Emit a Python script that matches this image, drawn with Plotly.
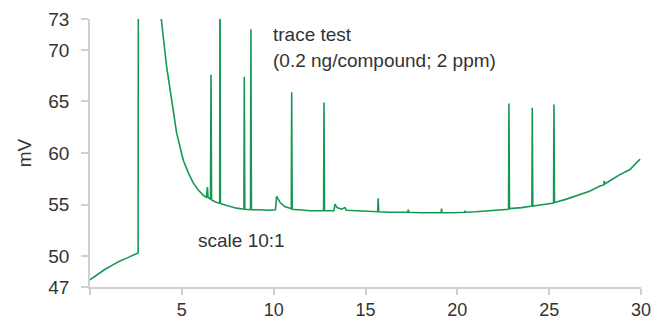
import plotly.graph_objects as go

# Retention time (min) and detector signal (mV)
time_min = [
    0.00, 0.40, 0.80, 1.20, 1.60, 2.00, 2.40, 2.62, 2.64, 3.20,
    3.85, 4.00, 4.17, 4.45, 4.72, 5.08, 5.35, 5.62, 5.90, 6.17,
    6.34, 6.39, 6.43, 6.56, 6.59, 6.62, 6.90, 7.06, 7.08, 7.10,
    7.26, 7.60, 7.98, 8.38, 8.40, 8.43, 8.74, 8.76, 8.79, 9.25,
    9.70, 10.10, 10.16, 10.35, 10.60, 10.96, 10.98, 11.01, 11.50, 12.00,
    12.72, 12.74, 12.77, 13.28, 13.34, 13.45, 13.70, 13.88, 13.95, 14.50,
    15.00, 15.66, 15.69, 15.72, 16.30, 17.00, 17.30, 17.33, 17.36, 18.00,
    18.60, 19.12, 19.14, 19.17, 19.80, 20.40, 20.42, 20.45, 21.00, 21.80,
    22.40, 22.79, 22.81, 22.84, 23.50, 24.06, 24.08, 24.11, 24.70, 25.24,
    25.26, 25.29, 25.90, 26.50, 27.20, 27.76, 27.98, 28.00, 28.03, 28.40,
    28.85, 29.40, 29.70, 29.95,
]
signal_mv = [
    47.7, 48.2, 48.7, 49.1, 49.5, 49.8, 50.1, 50.3, 95.0, 95.0,
    73.5, 71.0, 68.4, 65.1, 61.9, 59.3, 58.1, 57.1, 56.4, 55.9,
    55.7, 56.7, 55.7, 55.5, 67.6, 55.45, 55.2, 55.15, 80.0, 55.1,
    55.0, 54.8, 54.65, 54.55, 67.4, 54.55, 54.5, 72.0, 54.5, 54.5,
    54.45, 54.5, 55.8, 55.2, 54.8, 54.6, 65.9, 54.55, 54.45, 54.4,
    54.4, 64.9, 54.4, 54.4, 55.05, 54.7, 54.55, 54.7, 54.45, 54.4,
    54.3, 54.3, 55.6, 54.3, 54.25, 54.2, 54.25, 54.5, 54.25, 54.2,
    54.2, 54.2, 54.6, 54.2, 54.2, 54.25, 54.4, 54.25, 54.3, 54.4,
    54.5, 54.55, 64.8, 54.6, 54.7, 54.85, 64.4, 54.85, 55.0, 55.15,
    64.7, 55.2, 55.5, 55.9, 56.3, 56.8, 56.9, 57.3, 57.0, 57.4,
    57.9, 58.4, 58.9, 59.4,
]

x_ticks = [0, 5, 10, 15, 20, 25, 30]
x_tick_labels = ["", "5", "10", "15", "20", "25", "30"]
y_ticks = [47, 50, 55, 60, 65, 70, 73]
y_tick_labels = ["47", "50", "55", "60", "65", "70", "73"]

FONT = "Liberation Sans"
TEXT_COLOR = "#333333"
AXIS_COLOR = "#cfcfcf"

fig = go.Figure()
fig.add_trace(go.Scatter(
    x=time_min, y=signal_mv, mode="lines",
    line=dict(color="rgb(22,152,84)", width=1.6),
    hoverinfo="skip", showlegend=False,
))

fig.add_annotation(
    x=9.85, y=71.45, xref="x", yref="y", xanchor="left", yanchor="middle",
    text="trace test", showarrow=False,
    font=dict(family=FONT, size=19, color=TEXT_COLOR),
)
fig.add_annotation(
    x=9.85, y=69.0, xref="x", yref="y", xanchor="left", yanchor="middle",
    text="(0.2 ng/compound; 2 ppm)", showarrow=False,
    font=dict(family=FONT, size=19, color=TEXT_COLOR),
)
fig.add_annotation(
    x=5.77, y=51.56, xref="x", yref="y", xanchor="left", yanchor="middle",
    text="scale 10:1", showarrow=False,
    font=dict(family=FONT, size=19, color=TEXT_COLOR),
)

fig.update_layout(
    width=654, height=321,
    margin=dict(l=90, r=13, t=19, b=34),
    paper_bgcolor="white", plot_bgcolor="white",
    font=dict(family=FONT, size=19, color=TEXT_COLOR),
    xaxis=dict(
        range=[0, 30], tickvals=x_ticks, ticktext=x_tick_labels,
        showgrid=False, zeroline=False, automargin=False,
        showline=True, linecolor=AXIS_COLOR, linewidth=1.5,
        ticks="outside", ticklen=6, tickcolor=AXIS_COLOR, tickwidth=1.5,
        tickfont=dict(family=FONT, size=18, color=TEXT_COLOR),
        ticklabelstandoff=0,
    ),
    yaxis=dict(
        range=[47, 73], tickvals=y_ticks, ticktext=y_tick_labels,
        showgrid=False, zeroline=False, automargin=False,
        showline=True, linecolor=AXIS_COLOR, linewidth=1.5,
        ticks="outside", ticklen=7, tickcolor=AXIS_COLOR, tickwidth=1.5,
        tickfont=dict(family=FONT, size=19, color=TEXT_COLOR),
        ticklabelstandoff=8,
        title=dict(text="mV", font=dict(family=FONT, size=19, color=TEXT_COLOR), standoff=12),
    ),
)

fig.write_html("out.html")
